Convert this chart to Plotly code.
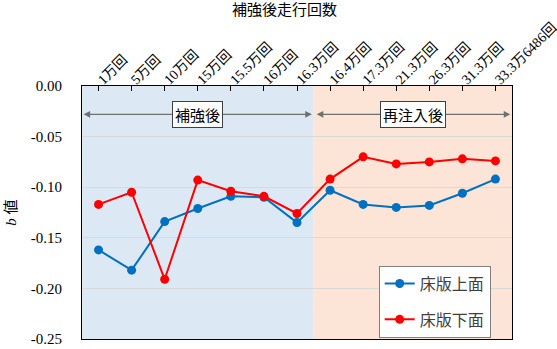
import plotly.graph_objects as go

categories = ["1万回", "5万回", "10万回", "15万回", "15.5万回", "16万回", "16.3万回",
              "16.4万回", "17.3万回", "21.3万回", "26.3万回", "31.3万回", "33.3万6486回"]
upper_face = [-0.162, -0.182, -0.134, -0.121, -0.109, -0.110, -0.135,
              -0.103, -0.117, -0.120, -0.118, -0.106, -0.092]
lower_face = [-0.117, -0.105, -0.191, -0.093, -0.104, -0.109, -0.126,
              -0.092, -0.070, -0.077, -0.075, -0.072, -0.074]
series_names = ["床版上面", "床版下面"]
y_ticks = [0.0, -0.05, -0.10, -0.15, -0.20, -0.25]
y_tick_labels = ["0.00", "-0.05", "-0.10", "-0.15", "-0.20", "-0.25"]
phase_labels = ["補強後", "再注入後"]
phase_split = 7  # number of categories in first phase

serif = "'Liberation Serif', 'Times New Roman', 'Noto Sans CJK JP', serif"
sans = "'Noto Sans CJK JP', sans-serif"

x_idx = list(range(len(categories)))

fig = go.Figure()
fig.add_trace(go.Scatter(x=x_idx, y=upper_face, name=series_names[0], mode="lines+markers",
                         line=dict(color="#0070C0", width=2),
                         marker=dict(color="#0070C0", size=9),
                         legendgroup="a"))
fig.add_trace(go.Scatter(x=x_idx, y=lower_face, name=series_names[1], mode="lines+markers",
                         line=dict(color="#FF0000", width=2),
                         marker=dict(color="#FF0000", size=9),
                         legendgroup="b"))

split_x = phase_split - 0.5
last_x = len(categories) - 0.5

fig.add_shape(type="rect", xref="x", yref="paper", x0=-0.5, x1=split_x, y0=0, y1=1,
              fillcolor="#DDE8F5", line_width=0, layer="below")
fig.add_shape(type="rect", xref="x", yref="paper", x0=split_x, x1=last_x, y0=0, y1=1,
              fillcolor="#FCE4D6", line_width=0, layer="below")

arrow_y = -0.028
for x0, x1 in [(-0.5, split_x - 0.05), (split_x + 0.05, last_x - 0.05)]:
    fig.add_annotation(x=x1, y=arrow_y, ax=x0, ay=arrow_y, xref="x", yref="y",
                       axref="x", ayref="y", text="", showarrow=True,
                       arrowhead=2, arrowside="end+start", arrowsize=1.1,
                       arrowwidth=1.2, arrowcolor="#707070")

fig.add_annotation(x=(-0.5 + split_x) / 2, y=arrow_y, xref="x", yref="y", text=phase_labels[0],
                   showarrow=False, bgcolor="white", bordercolor="#404040", borderwidth=1,
                   borderpad=2, font=dict(family=sans, size=15, color="black"))
fig.add_annotation(x=(split_x + last_x) / 2, y=arrow_y, xref="x", yref="y", text=phase_labels[1],
                   showarrow=False, bgcolor="white", bordercolor="#404040", borderwidth=1,
                   borderpad=2, font=dict(family=sans, size=15, color="black"))

fig.add_annotation(x=0.47, y=1.0 + 86 / 253, xref="paper", yref="paper", yanchor="top",
                   text="補強後走行回数",
                   showarrow=False, font=dict(family=serif, size=15, color="black"))

fig.update_layout(
    width=557, height=349,
    margin=dict(l=82, r=45, t=86, b=10),
    paper_bgcolor="white", plot_bgcolor="white",
    showlegend=True,
    legend=dict(x=0.69, y=0.29, xanchor="left", yanchor="top",
                bgcolor="white", bordercolor="#808080", borderwidth=1,
                font=dict(family=serif, size=16, color="#404040"),
                tracegroupgap=12),
    xaxis=dict(
        side="top", range=[-0.5, last_x], tickmode="array", tickvals=x_idx, ticktext=categories,
        tickangle=-45, tickson="boundaries", ticks="inside", ticklen=5, tickcolor="black",
        showline=True, linecolor="black", linewidth=1, mirror=True, showgrid=False,
        zeroline=False, ticklabelstandoff=-8, ticklabeloverflow="allow",
        tickfont=dict(family=serif, size=14, color="black"), automargin=False,
    ),
    yaxis=dict(
        range=[-0.25, 0.0], tickmode="array", tickvals=y_ticks, ticktext=y_tick_labels,
        showline=True, linecolor="black", linewidth=1, mirror=True,
        showgrid=True, gridcolor="#D9D9D9", gridwidth=1, zeroline=False,
        ticks="", ticklabelstandoff=16,
        tickfont=dict(family=serif, size=15, color="black"),
        title=dict(text="<i>b</i> 値", font=dict(family=serif, size=15, color="black"), standoff=10),
        automargin=False,
    ),
)

fig.write_html("out.html")
